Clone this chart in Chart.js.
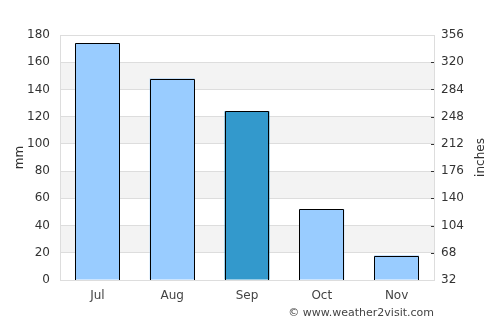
<!DOCTYPE html>
<html><head><meta charset="utf-8">
<script src="https://cdn.jsdelivr.net/npm/chart.js@4.4.0/dist/chart.umd.min.js"></script>
<style>html,body{margin:0;padding:0;background:#fff}#wrap{width:500px;height:325px;position:relative}</style>
</head><body><div id="wrap"><canvas id="c" width="500" height="325"></canvas></div>
<script>
const months = ["Jul", "Aug", "Sep", "Oct", "Nov"];
const rainfall = [174, 148, 124, 52, 18];
const barColors = ["#99ccff", "#99ccff", "#3399cc", "#99ccff", "#99ccff"];
const leftTicks = [0, 20, 40, 60, 80, 100, 120, 140, 160, 180];
const rightMin = 32, rightMax = 356;

const FONT = "'DejaVu Sans', sans-serif";

const bands = {
  id: 'bands',
  beforeDraw(chart) {
    const {ctx, chartArea: a, scales: {y}} = chart;
    ctx.save();
    ctx.fillStyle = '#f3f3f3';
    for (let v = 20; v < 180; v += 40) {
      const t = y.getPixelForValue(v + 20), b = y.getPixelForValue(v);
      ctx.fillRect(a.left, t, a.right - a.left, b - t);
    }
    ctx.restore();
  },
  afterDatasetsDraw(chart) {
    const {ctx} = chart;
    const meta = chart.getDatasetMeta(0);
    ctx.save();
    ctx.strokeStyle = '#000';
    ctx.lineWidth = 1;
    meta.data.forEach(el => {
      const l = Math.round(el.x - el.width / 2) + 0.5;
      const r = Math.round(el.x + el.width / 2) - 0.5;
      const t = Math.round(el.y) + 0.5;
      const b = Math.round(el.base);
      ctx.beginPath();
      ctx.moveTo(l, b);
      ctx.lineTo(l, t);
      ctx.lineTo(r, t);
      ctx.lineTo(r, b);
      ctx.stroke();
    });
    ctx.restore();
  },
  afterDraw(chart) {
    const {ctx, chartArea: a, scales: {y2}} = chart;
    ctx.save();
    ctx.strokeStyle = '#333';
    ctx.lineWidth = 1;
    y2.ticks.forEach(t => {
      if (t.value === rightMin || t.value === rightMax) return;
      const py = Math.round(y2.getPixelForValue(t.value)) + 0.5;
      ctx.beginPath();
      ctx.moveTo(a.right - 3, py);
      ctx.lineTo(a.right, py);
      ctx.stroke();
    });
    ctx.restore();
    ctx.save();
    ctx.fillStyle = '#333';
    ctx.font = "12px " + FONT;
    ctx.translate(a.right + 47, (a.top + a.bottom) / 2);
    ctx.rotate(-Math.PI / 2);
    ctx.textAlign = 'center';
    ctx.textBaseline = 'middle';
    ctx.fillText('inches', 0, 0);
    ctx.restore();
    ctx.save();
    ctx.fillStyle = '#444';
    ctx.font = "11px " + FONT;
    ctx.textAlign = 'right';
    ctx.textBaseline = 'middle';
    ctx.fillText('\u00a9 www.weather2visit.com', a.right, a.bottom + 33);
    ctx.restore();
  }
};

new Chart(document.getElementById('c'), {
  type: 'bar',
  data: {
    labels: months,
    datasets: [{
      data: rainfall,
      backgroundColor: barColors,
      borderWidth: 0,
      barPercentage: 0.6,
      categoryPercentage: 1.0
    }]
  },
  options: {
    responsive: false,
    animation: false,
    devicePixelRatio: 1,
    layout: {padding: {top: 35, bottom: 15, left: 0, right: 0}},
    plugins: {legend: {display: false}, tooltip: {enabled: false}},
    scales: {
      x: {
        grid: {display: true, drawOnChartArea: false, drawTicks: false, color: '#ddd'},
        border: {color: '#ddd'},
        ticks: {color: '#444', font: {family: FONT, size: 12}, padding: 9},
        afterFit(s) { s.height = 30; }
      },
      y: {
        position: 'left',
        min: 0, max: 180,
        afterBuildTicks(s) { s.ticks = leftTicks.map(v => ({value: v})); },
        grid: {color: '#dddddd', drawTicks: false},
        border: {color: '#ddd'},
        ticks: {color: '#333', font: {family: FONT, size: 12}, padding: 10},
        title: {display: true, text: 'mm', color: '#333', font: {family: FONT, size: 12}, padding: {top: 13, bottom: 0}},
        afterFit(s) { s.width = 60; }
      },
      y2: {
        position: 'right',
        min: rightMin, max: rightMax,
        ticks: {
          stepSize: 18,
          color: '#333', font: {family: FONT, size: 12}, padding: 7,
          callback: (v) => ((v - rightMin) % 36 === 0 ? String(v) : '')
        },
        grid: {drawOnChartArea: false, drawTicks: false},
        border: {display: true, color: '#ddd'},
        afterFit(s) { s.width = 66; }
      }
    }
  },
  plugins: [bands]
});
</script>
</body></html>
